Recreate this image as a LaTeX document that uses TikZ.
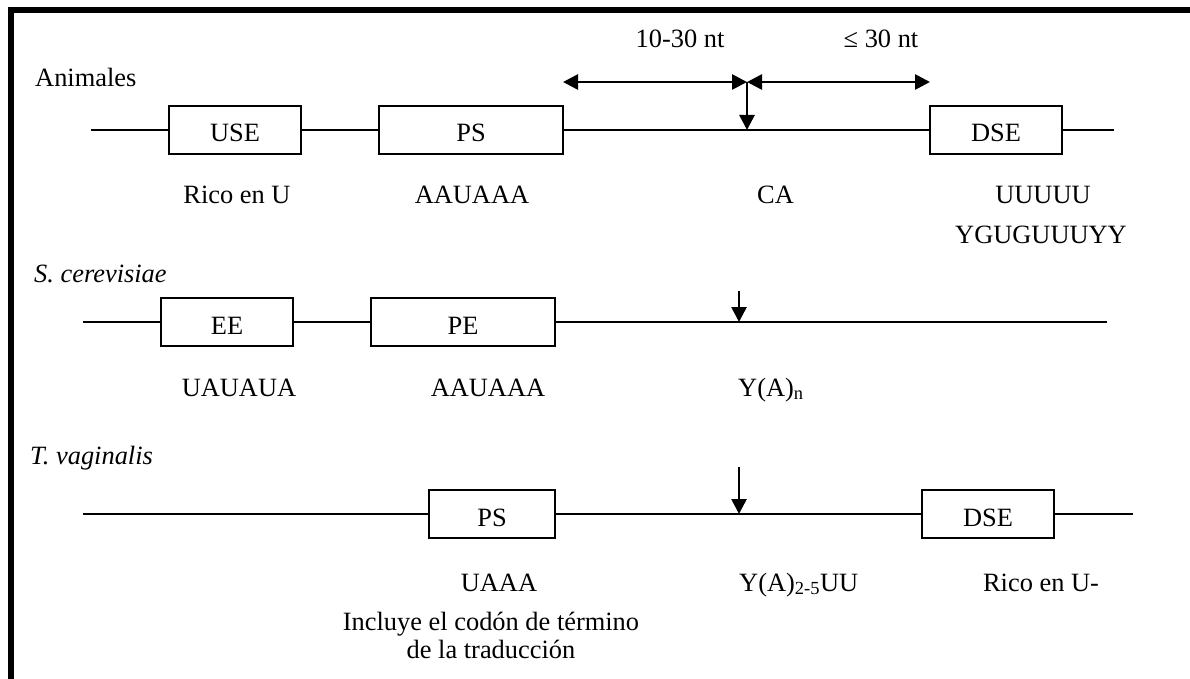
\documentclass[tikz,border=0pt]{standalone}
\usepackage{fontspec}
\setmainfont{Liberation Serif}
\usetikzlibrary{arrows.meta}
\begin{document}
\begin{tikzpicture}[x=1pt,y=-1pt,
  every node/.style={font=\fontsize{26.4}{30}\selectfont, inner sep=0pt},
  seqline/.style={line width=2pt},
  elem/.style={draw, line width=2pt, minimum height=48pt, text height=24pt, text depth=0pt, inner sep=0pt},
  lbl/.style={anchor=base},
  lblw/.style={anchor=base west},
  cutarrow/.style={line width=2.7pt, -{Triangle[length=15pt,width=15pt]}},
  spanarrow/.style={line width=2.7pt, {Triangle[length=15pt,width=15pt]}-{Triangle[length=15pt,width=15pt]}},
  borderline/.style={line width=6.5pt, line join=miter}
]
\useasboundingbox (0,0) rectangle (1190,679);
% frame
\coordinate (fb) at (11,700);
\coordinate (fc) at (11,10);
\coordinate (fr) at (1210,10);
\draw[borderline] (fb) -- (fc) -- (fr);

% ---------- Animales ----------
\node[lblw] (anim) at (35,87) {Animales};
\coordinate (a0) at (91,130);
\node[elem, minimum width=132pt] (use) at (235,130) {USE};
\node[elem, minimum width=184pt] (ps1) at (471,130) {PS};
\node[elem, minimum width=132pt] (dse1) at (996,130) {DSE};
\coordinate (a1) at (1114,130);
\draw[seqline] (a0) -- (use) -- (ps1) -- (dse1) -- (a1);
\coordinate (ca) at (747,130);
\coordinate (catop) at (747,82);
\coordinate (sl) at (563,82);
\coordinate (sr) at (930,82);
\draw[cutarrow] (catop) -- (ca);
\draw[spanarrow] (sl) -- (catop);
\draw[spanarrow] (catop) -- (sr);
\node[lbl] (d1) at (680,48) {10-30 nt};
\node[lbl] (d2) at (881,48) {≤ 30 nt};
\node[lbl] (l1a) at (237,203) {Rico en U};
\node[lbl] (l1b) at (472,203) {AAUAAA};
\node[lblw] (l1c) at (757,203) {CA};
\node[lbl] (l1d) at (1043,203) {UUUUU};
\node[lbl] (l1e) at (1041,243) {YGUGUUUYY};

% ---------- S. cerevisiae ----------
\node[lblw] (scer) at (34,282) {\itshape S. cerevisiae};
\coordinate (b0) at (83,322);
\node[elem, minimum width=132pt] (ee) at (227,322) {EE};
\node[elem, minimum width=184pt] (pe) at (463,322) {PE};
\coordinate (b1) at (1107,322);
\draw[seqline] (b0) -- (ee) -- (pe) -- (b1);
\coordinate (cb) at (739,322);
\coordinate (cbtop) at (739,291);
\draw[cutarrow] (cbtop) -- (cb);
\node[lbl] (l2a) at (239,396) {UAUAUA};
\node[lbl] (l2b) at (488,396) {AAUAAA};
\node[lblw] (l2c) at (738,396) {Y(A)\textsubscript{n}};

% ---------- T. vaginalis ----------
\node[lblw] (tvag) at (30,464) {\itshape T. vaginalis};
\coordinate (c0) at (83,514);
\node[elem, minimum width=126pt] (ps3) at (492,514) {PS};
\node[elem, minimum width=132pt] (dse3) at (988,514) {DSE};
\coordinate (c1) at (1133,514);
\draw[seqline] (c0) -- (ps3) -- (dse3) -- (c1);
\coordinate (cc) at (739,514);
\coordinate (cctop) at (739,467);
\draw[cutarrow] (cctop) -- (cc);
\node[lbl] (l3a) at (499,591) {UAAA};
\node[lblw] (l3c) at (739,591) {Y(A)\textsubscript{2-5}UU};
\node[lbl] (l3d) at (1041,591) {Rico en U-};
\node[anchor=base, align=center, font=\fontsize{26.4}{28}\selectfont] (l3e) at (491,658) {Incluye el codón de término\\de la traducción};
\end{tikzpicture}
\end{document}
